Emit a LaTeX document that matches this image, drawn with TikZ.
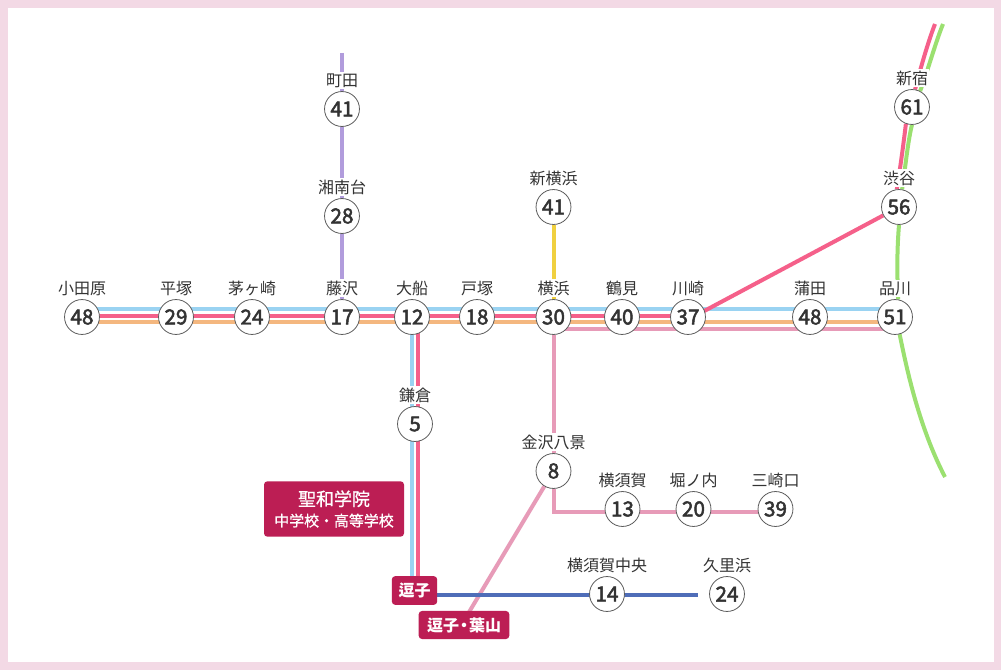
\documentclass[tikz,border=0pt]{standalone}
\usepackage{fontspec}
\setmainfont{Noto Sans CJK JP}
\newfontfamily\numfont[FakeBold=2.4]{Noto Sans CJK JP}
\newfontfamily\boxfont[FakeBold=0.8]{Noto Sans CJK JP}
\usetikzlibrary{positioning, backgrounds}
\definecolor{frame}{HTML}{F3D9E5}
\definecolor{ink}{HTML}{333333}
\definecolor{tokaido}{HTML}{9AD3F2}
\definecolor{shonan}{HTML}{F5608A}
\definecolor{ueno}{HTML}{F4B77F}
\definecolor{keikyu}{HTML}{E79BB8}
\definecolor{odakyu}{HTML}{B19CDC}
\definecolor{shinyoko}{HTML}{F0D040}
\definecolor{yamate}{HTML}{9BE070}
\definecolor{kurihama}{HTML}{4F6DB8}
\definecolor{school}{HTML}{BC1E54}
\tikzstyle{Line} = [line width=3pt]
\tikzstyle{Stop} = [
    circle,
    draw=ink!80,
    fill=white,
    line width=0.6pt,
    text=ink,
    inner sep=0pt,
    minimum size=26.2pt,
    font=\fontsize{15.5}{15.5}\numfont
]
\tikzstyle{Name} = [
    fill=white,
    text=ink,
    inner sep=1pt,
    font=\fontsize{12}{12}\selectfont
]
\tikzstyle{Goal} = [
    rounded corners=2.5pt,
    fill=school,
    text=white,
    inner sep=0pt,
    font=\fontsize{12}{12}\selectfont\bfseries
]

\begin{document}
\begin{tikzpicture}[x=0.75pt, y=-0.75pt, node distance=1.5pt]

\node [Stop] (odawara) at (82,317) {48};
\node [Stop] (hiratsuka) at (176,317) {29};
\node [Stop] (chigasaki) at (252,317) {24};
\node [Stop] (fujisawa) at (342,317) {17};
\node [Stop] (ofuna) at (412,317) {12};
\node [Stop] (totsuka) at (477,317) {18};
\node [Stop] (yokohama) at (553.5,317) {30};
\node [Stop] (tsurumi) at (622,317) {40};
\node [Stop] (kawasaki) at (688,317) {37};
\node [Stop] (kamata) at (810,317) {48};
\node [Stop] (shinagawa) at (895,317) {51};

\node [Stop] (machida) at (342,109) {41};
\node [Stop] (shonandai) at (342,216) {28};
\node [Stop] (shinyokohama) at (553.5,207) {41};
\node [Stop] (shinjuku) at (912,107) {61};
\node [Stop] (shibuya) at (899,207) {56};

\node [Stop] (kamakura) at (415,424) {5};
\node [Stop] (hakkei) at (553.5,471) {8};
\node [Stop] (yokosuka) at (622.5,509) {13};
\node [Stop] (horinouchi) at (693.5,509) {20};
\node [Stop] (misaki) at (775.5,509) {39};
\node [Stop] (chuo) at (607,594) {14};
\node [Stop] (kurihamast) at (727,594) {24};

\node [Goal, minimum width=105pt, minimum height=41.5pt, align=center] (seiwa) at (334,509) {
    {\fontsize{13.5}{18}\mdseries\boxfont 聖和学院}\\[3.5pt]
    {\fontsize{11.2}{11.2}\mdseries\boxfont 中学校・高等学校}
};
\node [Goal, minimum width=34pt, minimum height=21.5pt] (zushi) at (414.5,590.5) {逗子};
\node [Goal, minimum width=68pt, minimum height=21pt] (hayama) at (464,625) {逗子\hspace{-2.25pt}・\hspace{-2.25pt}葉山};

\coordinate (machidaend) at (342,53);
\coordinate (kurihamaend) at (698,595.5);
\coordinate (greentop) at (943,24);
\coordinate (greenend) at (945,477);
\coordinate (redtop) at (935,24);

\begin{scope}[on background layer]
\fill [frame] (0,0) rectangle (1001,670);
\fill [white] (7.5,8) rectangle (994,662);

\draw [Line, tokaido] ([yshift=6pt]odawara.center) -- ([yshift=6pt]shinagawa.center);
\draw [Line, shonan] ([yshift=0.8pt]odawara.center) -- ([yshift=0.8pt]kawasaki.center);
\draw [Line, ueno] ([yshift=-4.1pt]odawara.center) -- ([yshift=-4.1pt]shinagawa.center);
\draw [Line, keikyu] ([yshift=-9pt]yokohama.center) -- ([yshift=-9pt]shinagawa.center);

\draw [Line, tokaido] ([xshift=-0.2pt]ofuna.center) -- ([xshift=-0.2pt]ofuna.center |- zushi.north);
\draw [Line, shonan] ([xshift=4.3pt]ofuna.center) -- ([xshift=4.3pt]ofuna.center |- zushi.north);

\draw [Line, odakyu] (machidaend) -- (fujisawa);
\draw [Line, shinyoko] (shinyokohama) -- (yokohama);
\draw [Line, shonan] ([yshift=-2pt]kawasaki.center) -- (shibuya);

\draw [Line, keikyu] (yokohama) -- (hakkei);
\draw [Line, keikyu] (hakkei) |- ([yshift=-2pt]misaki.center);
\draw [Line, keikyu] (hakkei) -- ([xshift=-2pt]hayama.center);

\draw [Line, kurihama] (zushi.center |- kurihamaend) -- (kurihamaend);

\draw [Line, shonan] (shibuya.97) .. controls (900,170) and (904,140) .. (shinjuku.250);
\draw [Line, shonan] (shinjuku.80) .. controls (920,70) and (928,42) .. (redtop);
\draw [Line, yamate] (shinagawa.80) .. controls (897,270) and (897,250) .. (shibuya.south);
\draw [Line, yamate] (shibuya.80) .. controls (905,170) and (908,140) .. (shinjuku.south);
\draw [Line, yamate] (shinjuku.63) .. controls (928,70) and (935,44) .. (greentop);
\draw [Line, yamate] (shinagawa.-75) .. controls (906,365) and (918,425) .. (greenend);
\end{scope}

\node [Name, above = of odawara] (odawaraname) {小田原};
\node [Name, above = of hiratsuka] (hiratsukaname) {平塚};
\node [Name, above = of chigasaki] (chigasakiname) {茅ヶ崎};
\node [Name, above = of fujisawa] (fujisawaname) {藤沢};
\node [Name, above = of ofuna] (ofunaname) {大船};
\node [Name, above = of totsuka] (totsukaname) {戸塚};
\node [Name, above = of yokohama] (yokohamaname) {横浜};
\node [Name, above = of tsurumi] (tsuruminame) {鶴見};
\node [Name, above = of kawasaki] (kawasakiname) {川崎};
\node [Name, above = of kamata] (kamataname) {蒲田};
\node [Name, above = of shinagawa] (shinagawaname) {品川};
\node [Name, above = of machida] (machidaname) {町田};
\node [Name, above = of shonandai] (shonandainame) {湘南台};
\node [Name, above = of shinyokohama] (shinyokohamaname) {新横浜};
\node [Name, above = of shinjuku] (shinjukuname) {新宿};
\node [Name, above = of shibuya] (shibuyaname) {渋谷};
\node [Name, above = of kamakura] (kamakuraname) {鎌倉};
\node [Name, above = of hakkei] (hakkeiname) {金沢八景};
\node [Name, above = of yokosuka] (yokosukaname) {横須賀};
\node [Name, above = of horinouchi] (horinouchiname) {堀ノ内};
\node [Name, above = of misaki] (misakiname) {三崎口};
\node [Name, above = of chuo] (chuoname) {横須賀中央};
\node [Name, above = of kurihamast] (kurihamaname) {久里浜};

\end{tikzpicture}
\end{document}
